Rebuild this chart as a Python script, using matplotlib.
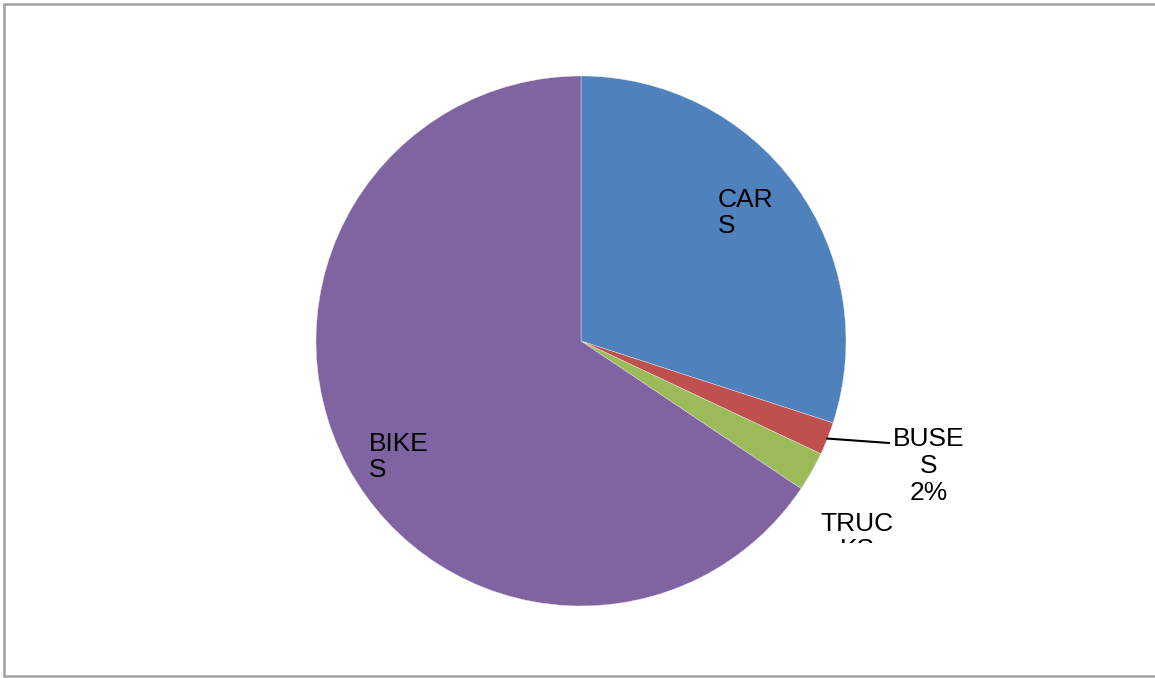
import numpy as np
import matplotlib.pyplot as plt
from matplotlib.patches import Rectangle

# vehicle share (percent)
categories = ["CARS", "BUSES", "TRUCKS", "BIKES"]
shares = [30.0, 2.0, 2.4, 65.6]
colors = ["#4F81BD", "#C0504D", "#9BBB59", "#8064A2"]
# how the labels are wrapped in the original
label_text = ["CAR\nS", "BUSE\nS\n2%", "TRUC\nKS", "BIKE\nS"]

W, H = 1155, 678
plt.rcParams['font.family'] = ['Liberation Sans', 'DejaVu Sans']

fig = plt.figure(figsize=(W / 100, H / 100), dpi=100)
ax = fig.add_axes([0, 0, 1, 1])

def Y(y):
    # pixel row (from top) -> data y
    return H - y

cx, cy, r = 581, Y(341), 265
wedges, _ = ax.pie(shares, colors=colors, startangle=90, counterclock=False,
                   center=(cx, cy), radius=r,
                   wedgeprops=dict(edgecolor="#E8E8F0", linewidth=0.3))
ax.set_xlim(0, W)
ax.set_ylim(0, H)
ax.set_aspect("equal")
ax.axis("off")

fs = 19
ls = 1.1
# CARS, inside
ax.text(718, Y(188), label_text[0], fontsize=fs, ha="left", va="top",
        linespacing=ls, multialignment="left")
# BIKES, inside
ax.text(369, Y(432), label_text[3], fontsize=fs, ha="left", va="top",
        linespacing=ls, multialignment="left")
# BUSES, outside with leader line
ax.text(929, Y(427), label_text[1], fontsize=fs, ha="center", va="top",
        linespacing=1.15, multialignment="center")
w = wedges[1]
mid = np.deg2rad((w.theta1 + w.theta2) / 2)
ax.plot([cx + r * np.cos(mid), 889], [cy + r * np.sin(mid), Y(443)],
        color="black", lw=1.5)
# TRUCKS, clipped at the bottom of the label area
t = ax.text(857, Y(512), label_text[2], fontsize=fs, ha="center", va="top",
            linespacing=ls, multialignment="center", clip_on=True)
clip = Rectangle((780, Y(543)), 200, 60, transform=ax.transData)
t.set_clip_path(clip)

# outer chart border (left, top, bottom)
ax.plot([W + 5, 4, 4, W + 5], [Y(4), Y(4), Y(676), Y(676)],
        color="#A0A0A0", lw=1.8, clip_on=False, solid_joinstyle="miter")

fig.savefig("out.png", dpi=100)
